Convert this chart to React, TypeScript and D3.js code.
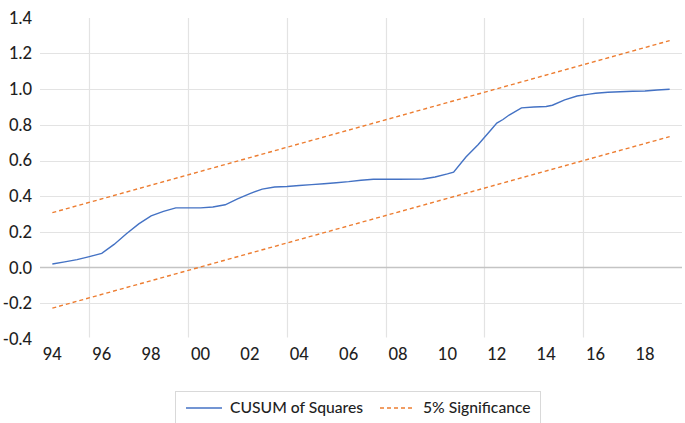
import React from "react";
import * as d3 from "d3";

const cusumYears = [1994.0, 1994.5, 1995.0, 1995.5, 1996.0, 1996.5, 1997.0, 1997.5, 1998.0, 1998.5, 1999.0, 1999.5, 2000.0, 2000.5, 2001.0, 2001.5, 2002.0, 2002.5, 2003.0, 2003.5, 2004.0, 2004.5, 2005.0, 2005.5, 2006.0, 2006.5, 2007.0, 2008.0, 2009.0, 2009.5, 2010.0, 2010.25, 2010.75, 2011.25, 2011.75, 2012.0, 2012.25, 2012.5, 2013.0, 2013.5, 2014.0, 2014.25, 2014.75, 2015.25, 2015.75, 2016.0, 2016.5, 2017.0, 2017.5, 2018.0, 2018.5, 2019.0];
const cusumValues = [0.02, 0.032, 0.045, 0.062, 0.08, 0.13, 0.19, 0.245, 0.29, 0.315, 0.335, 0.335, 0.335, 0.34, 0.352, 0.385, 0.415, 0.44, 0.452, 0.455, 0.46, 0.465, 0.47, 0.476, 0.482, 0.49, 0.495, 0.495, 0.497, 0.508, 0.525, 0.535, 0.62, 0.69, 0.77, 0.81, 0.83, 0.855, 0.895, 0.9, 0.903, 0.91, 0.94, 0.962, 0.972, 0.977, 0.983, 0.986, 0.988, 0.99, 0.995, 1.0];

const sigYears = [1994, 2019];
const sigUpper = [0.308, 1.272];
const sigLower = [-0.227, 0.734];

const yTicks = [1.4, 1.2, 1.0, 0.8, 0.6, 0.4, 0.2, 0.0, -0.2, -0.4];
const xTickYears = [1994, 1996, 1998, 2000, 2002, 2004, 2006, 2008, 2010, 2012, 2014, 2016, 2018];
const xGridYears = [1995.5, 1999.5, 2003.5, 2007.5, 2011.5, 2015.5];
const legendLabels = ["CUSUM of Squares", "5% Significance"];

const BLUE = "#4472C4";
const ORANGE = "#ED7D31";
const FONT = "Lato, 'Open Sans', sans-serif";

export default function App() {
  const W = 685, H = 423;
  const x = d3.scaleLinear().domain([1993.5, 2019.5]).range([40, 682]);
  const y = d3.scaleLinear().domain([-0.4, 1.4]).range([339, 17.8]);

  const line = d3.line<[number, number]>().x(d => x(d[0])).y(d => y(d[1]));
  const cusum = cusumYears.map((t, i) => [t, cusumValues[i]] as [number, number]);
  const upper = sigYears.map((t, i) => [t, sigUpper[i]] as [number, number]);
  const lower = sigYears.map((t, i) => [t, sigLower[i]] as [number, number]);

  return (
    <svg width={W} height={H} style={{ position: "absolute", left: 0, top: 0, background: "#fff" }}>
      {yTicks.filter(v => v !== 1.4 && v !== -0.4 && v !== 0).map(v => (
        <line key={"h" + v} x1={40} x2={682} y1={Math.round(y(v)) + 0.5} y2={Math.round(y(v)) + 0.5} stroke="#e3e3e3" strokeWidth={1.2} />
      ))}
      {xGridYears.map(t => (
        <line key={"v" + t} x1={Math.round(x(t)) + 0.5} x2={Math.round(x(t)) + 0.5} y1={18} y2={337.5} stroke="#e3e3e3" strokeWidth={1.2} />
      ))}
      <line x1={40} x2={682} y1={y(0)} y2={y(0)} stroke="#c4c4c4" strokeWidth={1.5} />

      {yTicks.map(v => (
        <text key={"yl" + v} x={32} y={y(v)} dy="0.36em" textAnchor="end" fontFamily={FONT} fontSize={16.5} fontWeight={500} fill="#1f1f1f">
          {v.toFixed(1)}
        </text>
      ))}
      {xTickYears.map(t => (
        <text key={"xl" + t} x={x(t)} y={360} textAnchor="middle" fontFamily={FONT} fontSize={16.5} fontWeight={500} fill="#1f1f1f">
          {String(t % 100).padStart(2, "0")}
        </text>
      ))}

      <path d={line(upper) || ""} fill="none" stroke={ORANGE} strokeWidth={1.4} strokeDasharray="4,3" />
      <path d={line(lower) || ""} fill="none" stroke={ORANGE} strokeWidth={1.4} strokeDasharray="4,3" />
      <path d={line(cusum) || ""} fill="none" stroke={BLUE} strokeWidth={1.4} />

      <rect x={175.5} y={391.5} width={365} height={40} fill="#fff" stroke="#d9d9d9" />
      <line x1={186} x2={222} y1={408} y2={408} stroke={BLUE} strokeWidth={1.4} />
      <text x={230} y={413} fontFamily={FONT} fontSize={15.7} fontWeight={500} fill="#1f1f1f">{legendLabels[0]}</text>
      <line x1={380} x2={414} y1={408} y2={408} stroke={ORANGE} strokeWidth={1.4} strokeDasharray="4,3" />
      <text x={423} y={413} fontFamily={FONT} fontSize={15.7} fontWeight={500} fill="#1f1f1f">{legendLabels[1]}</text>
    </svg>
  );
}
